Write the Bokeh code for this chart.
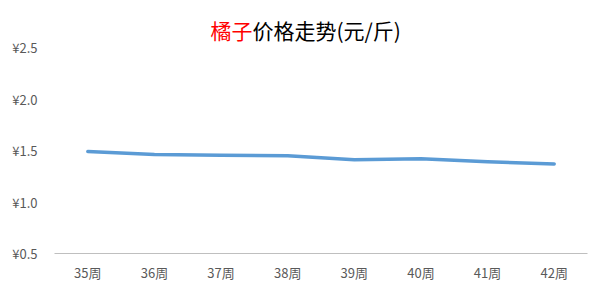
from bokeh.plotting import figure
from bokeh.models import FactorRange, Range1d, Label, NumeralTickFormatter
from bokeh.embed import file_html
from bokeh.resources import INLINE

weeks = ["35周", "36周", "37周", "38周", "39周", "40周", "41周", "42周"]
prices = [1.49, 1.46, 1.455, 1.45, 1.41, 1.42, 1.39, 1.37]
y_ticks = [0.5, 1.0, 1.5, 2.0, 2.5]

FONT = "Noto Sans CJK SC"

# frame extends to the top of the canvas so that the title can live inside it
p = figure(width=600, height=300, x_range=FactorRange(*weeks, range_padding=0),
           y_range=Range1d(0.5, 0.5 + 253 / 103.0), output_backend="svg", toolbar_location=None,
           min_border_left=54, min_border_right=13, min_border_top=0, min_border_bottom=47)
p.outline_line_color = None
p.background_fill_color = "white"
p.border_fill_color = "white"
p.xgrid.grid_line_color = None
p.ygrid.grid_line_color = None

p.line(x=weeks, y=prices, line_color="#5B9BD5", line_width=3.5, line_join="round", line_cap="round")

p.yaxis.ticker = y_ticks
p.yaxis.formatter = NumeralTickFormatter(format="0.0")
p.yaxis.major_label_overrides = {v: "¥%.1f" % v for v in y_ticks}
p.yaxis.axis_line_color = None
p.yaxis.major_tick_line_color = None
p.yaxis.minor_tick_line_color = None
p.yaxis.major_tick_out = 0
p.yaxis.major_tick_in = 0
p.yaxis.major_label_standoff = 17
p.yaxis.major_label_text_font = FONT
p.yaxis.major_label_text_font_size = "13px"
p.yaxis.major_label_text_color = "#595959"

p.xaxis.axis_line_color = "#BFBFBF"
p.xaxis.axis_line_width = 1
p.xaxis.major_tick_line_color = None
p.xaxis.minor_tick_line_color = None
p.xaxis.major_tick_out = 0
p.xaxis.major_tick_in = 0
p.xaxis.major_label_standoff = 9
p.xaxis.major_label_text_font = FONT
p.xaxis.major_label_text_font_size = "13px"
p.xaxis.major_label_text_color = "#595959"

t1 = Label(x=156, y=224, x_units="screen", y_units="screen", text="橘子",
           text_font=FONT, text_font_size="21px", text_color="#FF0000",
           text_align="left", text_baseline="middle")
t2 = Label(x=198, y=224, x_units="screen", y_units="screen", text="价格走势(元/斤)",
           text_font=FONT, text_font_size="21px", text_color="#000000",
           text_align="left", text_baseline="middle")
p.add_layout(t1)
p.add_layout(t2)

open("out.html", "w").write(file_html(p, INLINE))
